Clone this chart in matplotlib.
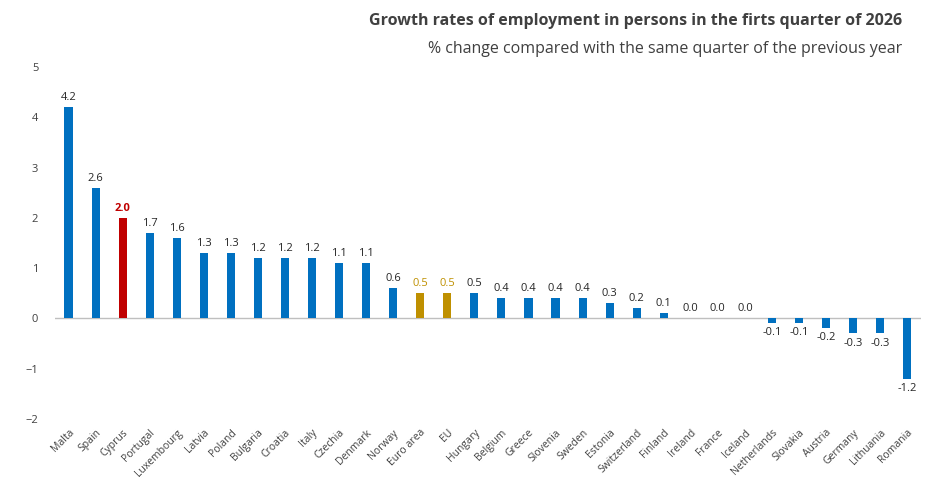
import matplotlib
matplotlib.use("Agg")
import matplotlib.pyplot as plt

countries = ["Malta","Spain","Cyprus","Portugal","Luxembourg","Latvia","Poland","Bulgaria","Croatia","Italy",
             "Czechia","Denmark","Norway","Euro area","EU","Hungary","Belgium","Greece","Slovenia","Sweden",
             "Estonia","Switzerland","Finland","Ireland","France","Iceland","Netherlands","Slovakia","Austria",
             "Germany","Lithuania","Romania"]
values = [4.2,2.6,2.0,1.7,1.6,1.3,1.3,1.2,1.2,1.2,1.1,1.1,0.6,0.5,0.5,0.5,0.4,0.4,0.4,0.4,0.3,0.2,0.1,
          0.0,0.0,0.0,-0.1,-0.1,-0.2,-0.3,-0.3,-1.2]
yticks = [-2,-1,0,1,2,3,4,5]

BLUE, RED, GOLD = "#0070C0", "#C00000", "#BF9000"
plt.rcParams['font.family'] = ['Open Sans', 'DejaVu Sans']
fig = plt.figure(figsize=(9.35, 4.94), dpi=100)
ax = fig.add_axes([0.0588, 0.152, 0.926, 0.712])
n = len(countries)
colors = [RED if c == "Cyprus" else GOLD if c in ("Euro area", "EU") else BLUE for c in countries]
ax.bar(range(n), values, width=0.3, color=colors, zorder=2)
ax.axhline(0, color="#BFBFBF", lw=1, zorder=1)
for i, (v, c) in enumerate(zip(values, countries)):
    col = RED if c == "Cyprus" else GOLD if c in ("Euro area", "EU") else "#262626"
    off = 0.08 if v >= 0 else -0.08
    ax.text(i, v + off, f"{v:.1f}", ha="center", va="bottom" if v >= 0 else "top",
            fontsize=8, color=col, fontweight="bold" if c == "Cyprus" else "normal")
ax.set_xlim(-0.5, n - 0.5)
ax.set_ylim(-2, 5)
ax.set_yticks(yticks)
ax.set_xticks(range(n))
ax.set_xticklabels(countries, rotation=45, ha="right", rotation_mode="anchor", fontsize=7.5, color="#404040")
ax.tick_params(axis="y", labelsize=8, colors="#404040", length=0, pad=12)
ax.tick_params(axis="x", length=0, pad=6)
for s in ax.spines.values():
    s.set_visible(False)
fig.text(0.965, 0.958, "Growth rates of employment in persons in the firts quarter of 2026",
         ha="right", va="center", fontsize=11.5, fontweight="bold", color="#404040")
fig.text(0.965, 0.9, "% change compared with the same quarter of the previous year",
         ha="right", va="center", fontsize=11.5, color="#404040")
fig.savefig("out.png", dpi=100)
